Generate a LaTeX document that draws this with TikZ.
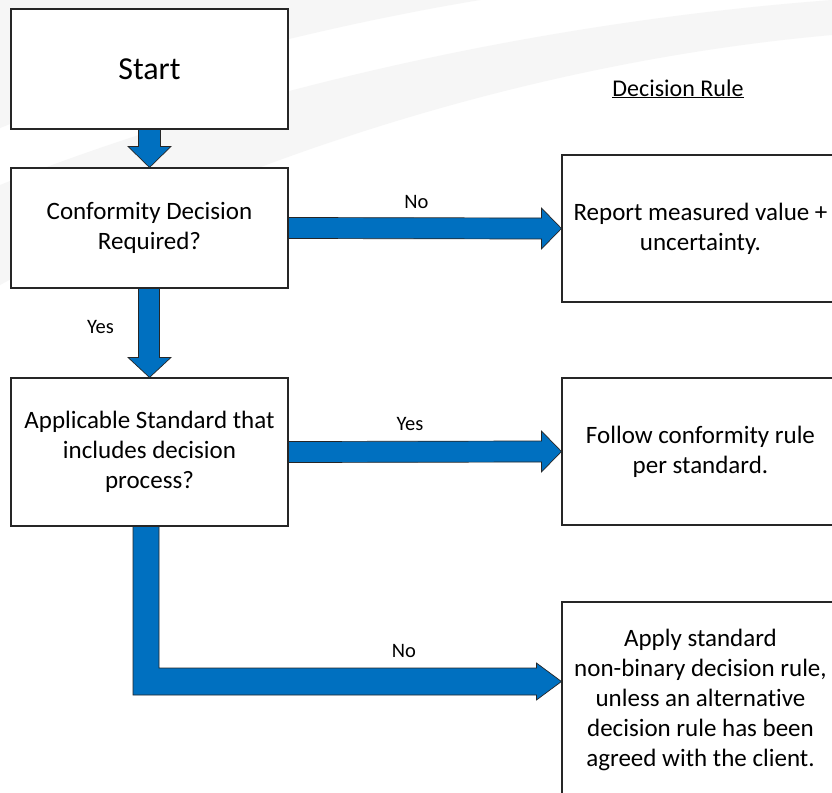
\documentclass[tikz,border=0pt]{standalone}
\usepackage{fontspec}
\setmainfont{Carlito}[Ligatures={NoCommon}]
\usetikzlibrary{calc}
\definecolor{arrowblue}{HTML}{0070C0}
\definecolor{swoosh}{HTML}{F6F6F6}
\tikzset{
  box/.style={draw=black!85, line width=1.1pt, fill=white, minimum width=277pt, inner sep=0pt, align=center, font=\fontsize{25}{30}\selectfont},
  blockarrow/.style={fill=arrowblue, draw=black!85, line width=0.7pt, line join=miter},
  lbl/.style={inner sep=0pt, anchor=base, font=\fontsize{20.5}{24}\selectfont},
  bg/.style={fill=swoosh, draw=none}
}
\begin{document}
\begin{tikzpicture}[x=1pt, y=-1pt]
\useasboundingbox (0,0) rectangle (832,792);
\begin{scope}
\clip (0,0) rectangle (832,792);
\fill[white] (0,0) rectangle (832,792);
% faint background swooshes
\path[bg] (0,0) -- (480,0) .. controls (300,30) and (120,80) .. (0,128) -- cycle;
\path[bg] (0,185) .. controls (200,105) and (500,25) .. (832,0) -- (832,35) .. controls (550,60) and (250,150) .. (0,285) -- cycle;

% nodes
\node[box, minimum height=120pt, font=\fontsize{32}{38}\selectfont] (start) at (149.5,69) {Start};
\node[box, minimum height=120pt] (cdr) at (149.5,228) {Conformity Decision\\Required?};
\node[box, minimum height=148pt] (asd) at (149.5,452) {Applicable Standard that\\includes decision\\process?};
\node[box, minimum height=147pt] (report) at (700.5,228.5) {Report measured value +\\uncertainty.};
\node[box, minimum height=147pt] (follow) at (700.5,451.5) {Follow conformity rule\\per standard.};
\node[box, minimum height=196pt] (apply) at (700.5,700) {Apply standard\\non-binary decision rule,\\unless an alternative\\decision rule has been\\agreed with the client.};

\node[inner sep=0pt, anchor=base, font=\fontsize{24}{28}\selectfont] (dr) at (678,96) {\underline{Decision Rule}};

% Start -> cdr
\draw[blockarrow] ($(start.south)+(-11,0)$) -- ($(start.south)+(11,0)$) -- ($(cdr.north)+(11,-21)$) -- ($(cdr.north)+(21.5,-21)$) -- (cdr.north) -- ($(cdr.north)+(-21.5,-21)$) -- ($(cdr.north)+(-11,-21)$) -- cycle;
% cdr -> asd (Yes)
\draw[blockarrow] ($(cdr.south)+(-11,0)$) -- ($(cdr.south)+(10,0)$) -- ($(asd.north)+(10,-20)$) -- ($(asd.north)+(21.5,-20)$) -- (asd.north) -- ($(asd.north)+(-21.5,-20)$) -- ($(asd.north)+(-11,-20)$) -- cycle;
% cdr -> report (No)
\draw[blockarrow] ($(cdr.east)+(0,-10.5)$) -- ($(report.west)+(-20,-10.5)$) -- ($(report.west)+(-20,-20.5)$) -- (report.west) -- ($(report.west)+(-20,20.5)$) -- ($(report.west)+(-20,10.5)$) -- ($(cdr.east)+(0,10.5)$) -- cycle;
% asd -> follow (Yes)
\draw[blockarrow] ($(asd.east)+(0,-10.5)$) -- ($(follow.west)+(-20,-10.5)$) -- ($(follow.west)+(-20,-20.5)$) -- (follow.west) -- ($(follow.west)+(-20,20.5)$) -- ($(follow.west)+(-20,10.5)$) -- ($(asd.east)+(0,10.5)$) -- cycle;
% asd -> apply (No), L-shaped
\coordinate (t5) at ($(apply.west)+(0,-18.5)$);
\coordinate (a5) at ($(asd.south)+(-16.5,0)$);
\coordinate (b5) at ($(asd.south)+(9.5,0)$);
\draw[blockarrow] (a5) -- (b5) -- ($(b5 |- t5)+(0,-13.5)$) -- ($(t5)+(-25,-13.5)$) -- ($(t5)+(-25,-18.5)$) -- (t5) -- ($(t5)+(-25,18.5)$) -- ($(t5)+(-25,13.5)$) -- ($(a5 |- t5)+(0,13.5)$) -- cycle;

% labels
\node[lbl] (lno1) at (416.5,208) {No};
\node[lbl] (lyes1) at (100.5,333) {Yes};
\node[lbl] (lyes2) at (410,430) {Yes};
\node[lbl] (lno2) at (404,657) {No};
\end{scope}
\end{tikzpicture}
\end{document}
